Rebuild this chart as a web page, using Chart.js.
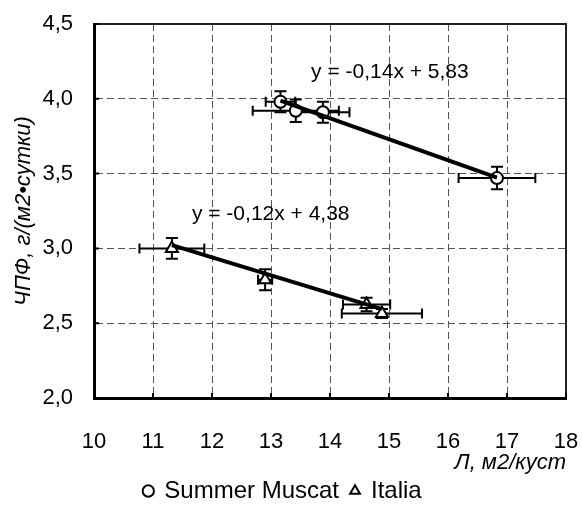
<!DOCTYPE html>
<html>
<head>
<meta charset="utf-8">
<script src="https://cdn.jsdelivr.net/npm/chart.js@4"></script>
<style>
  html, body { margin: 0; padding: 0; background: #fff; }
  #wrap { width: 582px; height: 513px; }
</style>
</head>
<body>
<div id="wrap"><canvas id="chart" width="582" height="513"></canvas></div>
<script>
const series_names = ["Summer Muscat", "Italia"];

const muscat_x = [13.16, 13.42, 13.88, 16.83];
const muscat_y = [3.98, 3.92, 3.91, 3.47];
const muscat_x_err = [0.25, 0.73, 0.45, 0.65];
const muscat_y_err = [0.07, 0.075, 0.07, 0.075];

const italia_x = [11.32, 12.90, 14.62, 14.88];
const italia_y = [3.00, 2.79, 2.625, 2.565];
const italia_x_err = [0.55, 0.12, 0.4, 0.68];
const italia_y_err = [0.07, 0.07, 0.045, 0.03];

// trend lines: y = k*x + b
const trend_k = [-0.14, -0.12];
const trend_b = [5.83, 4.38];
const trend_labels = ["y = -0,14x + 5,83", "y = -0,12x + 4,38"];
const trend_label_x = [13.68, 11.66];
const trend_label_y = [4.18, 3.227];

const x_title = "Л, м2/куст";
const y_title = "ЧПФ, г/(м2•сутки)";

const FONT = "'Liberation Sans', Arial, sans-serif";

function points(xs, ys) {
    return xs.map((x, i) => ({ x: x, y: ys[i] }));
}

function trend_points(xs, k, b) {
    const lo = Math.min(...xs);
    const hi = Math.max(...xs);
    return [{ x: lo, y: k * lo + b }, { x: hi, y: k * hi + b }];
}

const error_bars = {
    id: 'error_bars',
    beforeDatasetsDraw(chart) {
        const ctx = chart.ctx;
        const xs = chart.scales.x;
        const ys = chart.scales.y;
        ctx.save();
        ctx.strokeStyle = '#000';
        ctx.lineWidth = 2;
        chart.data.datasets.forEach(ds => {
            if (!ds.xErr) return;
            ds.data.forEach((p, i) => {
                const px = xs.getPixelForValue(p.x);
                const py = ys.getPixelForValue(p.y);
                const x0 = xs.getPixelForValue(p.x - ds.xErr[i]);
                const x1 = xs.getPixelForValue(p.x + ds.xErr[i]);
                const y0 = ys.getPixelForValue(p.y - ds.yErr[i]);
                const y1 = ys.getPixelForValue(p.y + ds.yErr[i]);
                ctx.beginPath();
                ctx.moveTo(x0, py); ctx.lineTo(x1, py);
                ctx.moveTo(x0, py - 5); ctx.lineTo(x0, py + 5);
                ctx.moveTo(x1, py - 5); ctx.lineTo(x1, py + 5);
                ctx.moveTo(px, y0); ctx.lineTo(px, y1);
                ctx.moveTo(px - 6, y0); ctx.lineTo(px + 6, y0);
                ctx.moveTo(px - 6, y1); ctx.lineTo(px + 6, y1);
                ctx.stroke();
            });
        });
        ctx.restore();
    },
    afterDatasetsDraw(chart) {
        const ctx = chart.ctx;
        const xs = chart.scales.x;
        const ys = chart.scales.y;
        const a = chart.chartArea;
        ctx.save();
        // trend equations
        ctx.fillStyle = '#000';
        ctx.font = '21px ' + FONT;
        ctx.textBaseline = 'middle';
        trend_labels.forEach((t, i) => {
            ctx.fillText(t, xs.getPixelForValue(trend_label_x[i]), ys.getPixelForValue(trend_label_y[i]));
        });
        // frame top / right
        ctx.strokeStyle = '#222';
        ctx.lineWidth = 2;
        ctx.beginPath();
        ctx.moveTo(a.left, a.top); ctx.lineTo(a.right, a.top); ctx.lineTo(a.right, a.bottom);
        ctx.stroke();
        // inward ticks
        ctx.strokeStyle = '#000';
        ctx.lineWidth = 2;
        ctx.beginPath();
        ys.ticks.forEach(t => {
            const py = ys.getPixelForValue(t.value);
            ctx.moveTo(a.left, py); ctx.lineTo(a.left + 5, py);
        });
        xs.ticks.forEach(t => {
            const px = xs.getPixelForValue(t.value);
            ctx.moveTo(px, a.bottom); ctx.lineTo(px, a.bottom - 5);
        });
        ctx.stroke();
        ctx.restore();
    }
};

new Chart(document.getElementById('chart'), {
    type: 'scatter',
    data: {
        datasets: [
            {
                label: series_names[0],
                data: points(muscat_x, muscat_y),
                xErr: muscat_x_err,
                yErr: muscat_y_err,
                pointStyle: 'circle',
                pointRadius: 6,
                backgroundColor: '#fff',
                borderColor: '#000',
                borderWidth: 2,
                order: 1
            },
            {
                label: series_names[1],
                data: points(italia_x, italia_y),
                xErr: italia_x_err,
                yErr: italia_y_err,
                pointStyle: 'triangle',
                pointRadius: 7,
                backgroundColor: '#fff',
                borderColor: '#000',
                borderWidth: 2,
                order: 1
            },
            {
                label: 'trend1',
                data: trend_points(muscat_x, trend_k[0], trend_b[0]),
                showLine: true,
                pointRadius: 0,
                borderColor: '#000',
                borderWidth: 4,
                order: 0
            },
            {
                label: 'trend2',
                data: trend_points(italia_x, trend_k[1], trend_b[1]),
                showLine: true,
                pointRadius: 0,
                borderColor: '#000',
                borderWidth: 4,
                order: 0
            }
        ]
    },
    options: {
        responsive: false,
        animation: false,
        layout: { padding: { top: 24, right: 16, left: 0, bottom: 0 } },
        plugins: {
            tooltip: { enabled: false },
            legend: {
                position: 'bottom',
                labels: {
                    usePointStyle: true,
                    boxWidth: 8,
                    boxHeight: 8,
                    padding: 12,
                    color: '#000',
                    font: { family: FONT, size: 24, lineHeight: 0.96 },
                    filter: item => item.datasetIndex < 2
                }
            }
        },
        scales: {
            x: {
                type: 'linear',
                min: 10,
                max: 18,
                afterFit: s => { s.height = 69; s.paddingLeft = 0; s.paddingRight = 0; },
                ticks: {
                    stepSize: 1,
                    padding: 31,
                    color: '#000',
                    font: { family: FONT, size: 22 }
                },
                grid: { color: '#555', lineWidth: 1, drawTicks: false },
                border: { display: true, color: '#000', width: 3, dash: [7, 4] },
                title: {
                    display: true,
                    text: x_title,
                    align: 'end',
                    color: '#000',
                    padding: { top: 0, bottom: -9 },
                    font: { family: FONT, size: 22, style: 'italic' }
                }
            },
            y: {
                type: 'linear',
                min: 2,
                max: 4.5,
                afterFit: s => { s.width = 94; s.paddingTop = 0; s.paddingBottom = 0; },
                ticks: {
                    stepSize: 0.5,
                    padding: 21,
                    color: '#000',
                    font: { family: FONT, size: 22 },
                    callback: v => v.toFixed(1).replace('.', ',')
                },
                grid: { color: '#555', lineWidth: 1, drawTicks: false },
                border: { display: true, color: '#000', width: 3, dash: [7, 4] },
                title: {
                    display: true,
                    text: y_title,
                    color: '#000',
                    padding: { top: 11, bottom: 0 },
                    font: { family: FONT, size: 22, style: 'italic' }
                }
            }
        }
    },
    plugins: [error_bars]
});
</script>
</body>
</html>
